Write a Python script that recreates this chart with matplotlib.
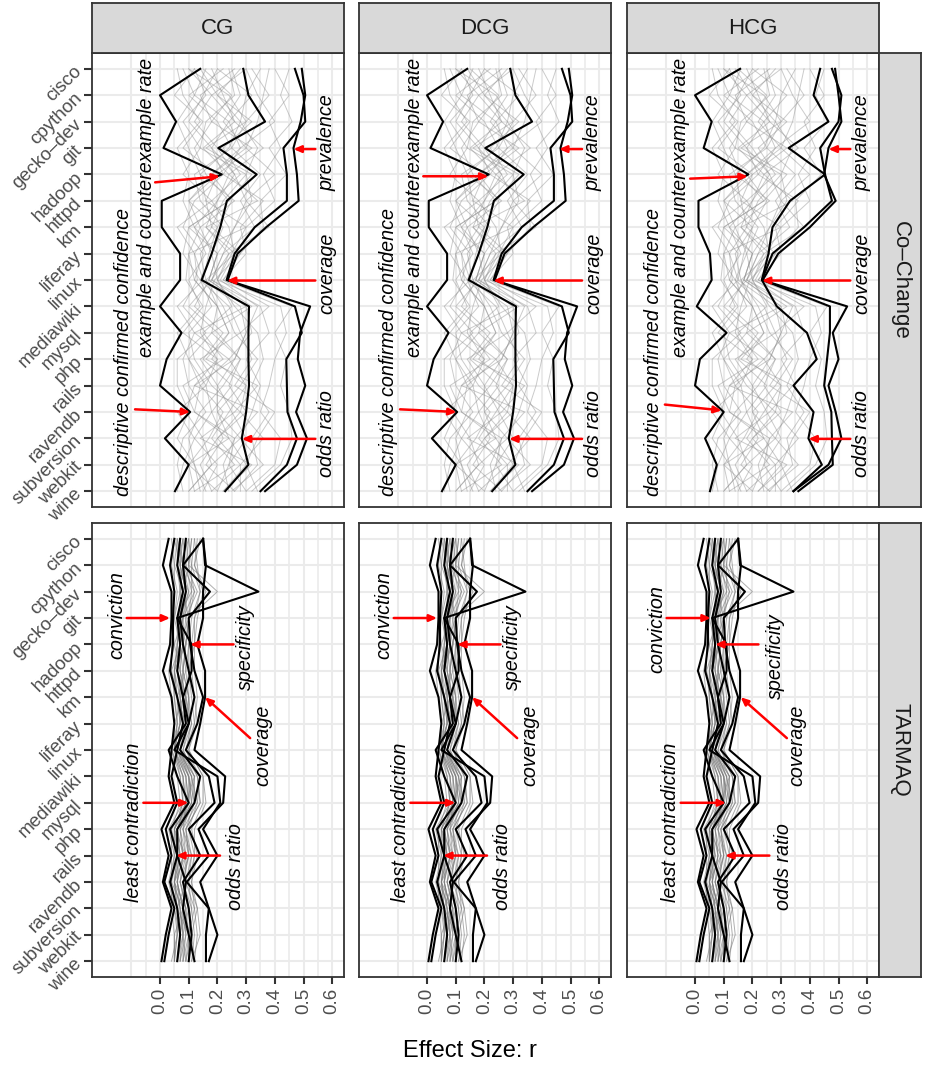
import matplotlib
matplotlib.use('Agg')
import matplotlib.pyplot as plt

plt.rcParams['font.family'] = ['Liberation Sans', 'DejaVu Sans']

# ---------------- data ----------------
projects = ['cisco', 'cpython', 'gecko–dev', 'git', 'hadoop', 'httpd', 'km', 'liferay',
            'linux', 'mediawiki', 'mysql', 'php', 'rails', 'ravendb', 'subversion',
            'webkit', 'wine']
col_labels = ['CG', 'DCG', 'HCG']
row_labels = ['Co–Change', 'TARMAQ']
x_ticks = [0.0, 0.1, 0.2, 0.3, 0.4, 0.5, 0.6]
x_tick_labels = ['0.0', '0.1', '0.2', '0.3', '0.4', '0.5', '0.6']

# Co-Change: grey (all other measures)
cc_grey = [
    [0.20, 0.15, 0.10, 0.18, 0.22, 0.12, 0.08, 0.15, 0.12, 0.20, 0.18, 0.10, 0.14, 0.22, 0.17, 0.10, 0.12],
    [0.25, 0.28, 0.22, 0.30, 0.18, 0.25, 0.20, 0.17, 0.15, 0.28, 0.30, 0.26, 0.20, 0.25, 0.30, 0.24, 0.20],
    [0.12, 0.05, 0.15, 0.08, 0.20, 0.10, 0.14, 0.10, 0.09, 0.15, 0.08, 0.20, 0.12, 0.09, 0.15, 0.18, 0.10],
    [0.32, 0.38, 0.30, 0.25, 0.35, 0.28, 0.33, 0.22, 0.18, 0.35, 0.38, 0.30, 0.35, 0.32, 0.28, 0.36, 0.25],
    [0.18, 0.22, 0.26, 0.15, 0.24, 0.20, 0.12, 0.20, 0.17, 0.12, 0.22, 0.15, 0.25, 0.18, 0.12, 0.20, 0.15],
    [0.08, 0.12, 0.06, 0.10, 0.14, 0.16, 0.18, 0.12, 0.15, 0.06, 0.12, 0.08, 0.10, 0.16, 0.08, 0.06, 0.08],
    [0.28, 0.20, 0.32, 0.22, 0.28, 0.18, 0.24, 0.26, 0.16, 0.22, 0.26, 0.34, 0.28, 0.20, 0.24, 0.30, 0.22],
    [0.15, 0.25, 0.18, 0.12, 0.16, 0.24, 0.10, 0.08, 0.14, 0.18, 0.10, 0.12, 0.18, 0.28, 0.20, 0.14, 0.18],
    [0.40, 0.45, 0.38, 0.42, 0.36, 0.40, 0.30, 0.25, 0.20, 0.42, 0.44, 0.40, 0.38, 0.35, 0.42, 0.40, 0.30],
    [0.22, 0.10, 0.20, 0.25, 0.12, 0.14, 0.22, 0.18, 0.20, 0.25, 0.15, 0.22, 0.08, 0.12, 0.26, 0.22, 0.24],
    [0.10, 0.18, 0.12, 0.20, 0.26, 0.20, 0.16, 0.24, 0.18, 0.10, 0.20, 0.28, 0.22, 0.14, 0.10, 0.12, 0.14],
    [0.35, 0.30, 0.28, 0.34, 0.30, 0.32, 0.26, 0.20, 0.17, 0.30, 0.32, 0.24, 0.30, 0.28, 0.36, 0.28, 0.28],
    [0.06, 0.08, 0.14, 0.06, 0.10, 0.08, 0.12, 0.16, 0.10, 0.14, 0.06, 0.10, 0.16, 0.06, 0.12, 0.08, 0.06],
    [0.30, 0.34, 0.40, 0.28, 0.22, 0.36, 0.28, 0.30, 0.22, 0.38, 0.28, 0.32, 0.26, 0.40, 0.34, 0.30, 0.34],
    [0.16, 0.12, 0.24, 0.28, 0.18, 0.10, 0.20, 0.14, 0.16, 0.20, 0.24, 0.18, 0.30, 0.24, 0.18, 0.26, 0.12],
    [0.24, 0.26, 0.16, 0.14, 0.30, 0.22, 0.18, 0.28, 0.19, 0.16, 0.14, 0.20, 0.16, 0.18, 0.22, 0.16, 0.26],
    [0.45, 0.42, 0.46, 0.38, 0.44, 0.35, 0.36, 0.28, 0.22, 0.46, 0.40, 0.44, 0.42, 0.45, 0.46, 0.42, 0.32],
    [0.12, 0.16, 0.08, 0.14, 0.08, 0.18, 0.06, 0.12, 0.13, 0.08, 0.16, 0.06, 0.06, 0.10, 0.06, 0.12, 0.16],
    [0.20, 0.32, 0.24, 0.18, 0.26, 0.30, 0.26, 0.22, 0.18, 0.32, 0.18, 0.28, 0.24, 0.30, 0.20, 0.28, 0.18],
    [0.38, 0.36, 0.34, 0.30, 0.40, 0.30, 0.38, 0.24, 0.20, 0.26, 0.34, 0.36, 0.32, 0.38, 0.32, 0.34, 0.26],
    [0.14, 0.20, 0.28, 0.24, 0.14, 0.26, 0.14, 0.18, 0.14, 0.24, 0.28, 0.14, 0.20, 0.20, 0.28, 0.18, 0.10],
    [0.26, 0.14, 0.18, 0.32, 0.20, 0.16, 0.30, 0.10, 0.12, 0.20, 0.24, 0.16, 0.34, 0.26, 0.14, 0.32, 0.22],
    [0.10, 0.24, 0.30, 0.16, 0.32, 0.24, 0.10, 0.20, 0.17, 0.30, 0.12, 0.24, 0.14, 0.12, 0.24, 0.10, 0.20],
    [0.30, 0.18, 0.26, 0.36, 0.24, 0.34, 0.16, 0.26, 0.21, 0.34, 0.30, 0.26, 0.12, 0.34, 0.26, 0.24, 0.30],
]

# Co-Change: highlighted measures (CG and DCG)
cc_black = [
    [0.14, 0.0, 0.056, 0.012, 0.215, 0.006, 0.006, 0.07, 0.07, 0.0, 0.075, 0.023, 0.0, 0.105, 0.017, 0.10, 0.052],
    [0.29, 0.308, 0.366, 0.203, 0.337, 0.233, 0.21, 0.18, 0.145, 0.31, 0.308, 0.308, 0.31, 0.30, 0.285, 0.308, 0.227],
    [0.47, 0.50, 0.506, 0.43, 0.442, 0.442, 0.33, 0.26, 0.232, 0.523, 0.488, 0.48, 0.506, 0.474, 0.512, 0.477, 0.366],
    [0.494, 0.506, 0.49, 0.465, 0.477, 0.483, 0.37, 0.27, 0.236, 0.47, 0.494, 0.44, 0.442, 0.444, 0.477, 0.442, 0.35],
]
# Co-Change: highlighted measures (HCG)
cc_black_hcg = [
    [0.157, 0.0, 0.058, 0.03, 0.186, 0.012, 0.012, 0.052, 0.058, 0.006, 0.11, 0.017, 0.0, 0.10, 0.035, 0.076, 0.052],
    [0.436, 0.413, 0.465, 0.326, 0.453, 0.331, 0.27, 0.256, 0.233, 0.285, 0.39, 0.424, 0.343, 0.413, 0.395, 0.442, 0.343],
    [0.477, 0.51, 0.50, 0.436, 0.453, 0.477, 0.38, 0.27, 0.233, 0.53, 0.48, 0.50, 0.465, 0.49, 0.51, 0.465, 0.343],
    [0.488, 0.50, 0.51, 0.465, 0.45, 0.49, 0.40, 0.29, 0.236, 0.47, 0.47, 0.46, 0.45, 0.475, 0.477, 0.48, 0.36],
]

# TARMAQ: grey
tq_grey = [
    [0.07, 0.06, 0.08, 0.07, 0.06, 0.05, 0.07, 0.08, 0.06, 0.09, 0.10, 0.05, 0.07, 0.05, 0.07, 0.08, 0.06],
    [0.09, 0.08, 0.10, 0.08, 0.08, 0.07, 0.09, 0.10, 0.07, 0.11, 0.12, 0.07, 0.09, 0.07, 0.09, 0.09, 0.08],
    [0.05, 0.04, 0.06, 0.05, 0.04, 0.04, 0.05, 0.06, 0.04, 0.07, 0.08, 0.03, 0.05, 0.03, 0.05, 0.06, 0.04],
    [0.11, 0.10, 0.12, 0.10, 0.09, 0.08, 0.10, 0.11, 0.08, 0.13, 0.14, 0.09, 0.10, 0.08, 0.10, 0.11, 0.09],
    [0.08, 0.09, 0.11, 0.06, 0.07, 0.06, 0.08, 0.07, 0.05, 0.10, 0.11, 0.06, 0.08, 0.06, 0.08, 0.07, 0.07],
    [0.10, 0.07, 0.09, 0.09, 0.10, 0.09, 0.06, 0.09, 0.06, 0.12, 0.09, 0.08, 0.11, 0.09, 0.06, 0.10, 0.10],
    [0.06, 0.08, 0.07, 0.08, 0.05, 0.07, 0.08, 0.05, 0.05, 0.08, 0.09, 0.06, 0.06, 0.04, 0.08, 0.05, 0.05],
    [0.12, 0.11, 0.14, 0.11, 0.10, 0.10, 0.11, 0.12, 0.09, 0.14, 0.13, 0.10, 0.12, 0.10, 0.11, 0.12, 0.11],
    [0.04, 0.05, 0.05, 0.04, 0.05, 0.03, 0.04, 0.05, 0.04, 0.06, 0.07, 0.04, 0.04, 0.04, 0.04, 0.05, 0.05],
    [0.09, 0.10, 0.08, 0.10, 0.07, 0.08, 0.07, 0.08, 0.07, 0.10, 0.12, 0.07, 0.08, 0.07, 0.10, 0.08, 0.09],
    [0.13, 0.12, 0.16, 0.12, 0.11, 0.11, 0.12, 0.13, 0.10, 0.15, 0.15, 0.11, 0.13, 0.11, 0.12, 0.13, 0.12],
    [0.07, 0.07, 0.09, 0.06, 0.08, 0.06, 0.09, 0.09, 0.06, 0.10, 0.11, 0.06, 0.06, 0.06, 0.07, 0.08, 0.07],
    [0.08, 0.06, 0.10, 0.07, 0.09, 0.05, 0.06, 0.07, 0.05, 0.09, 0.10, 0.05, 0.09, 0.05, 0.09, 0.07, 0.06],
    [0.10, 0.09, 0.13, 0.09, 0.08, 0.09, 0.10, 0.10, 0.08, 0.12, 0.12, 0.09, 0.10, 0.08, 0.11, 0.10, 0.08],
    [0.06, 0.05, 0.08, 0.06, 0.06, 0.05, 0.05, 0.06, 0.05, 0.08, 0.09, 0.04, 0.06, 0.05, 0.06, 0.06, 0.05],
    [0.11, 0.10, 0.20, 0.10, 0.09, 0.08, 0.08, 0.10, 0.07, 0.11, 0.13, 0.08, 0.09, 0.09, 0.12, 0.10, 0.10],
    [0.05, 0.07, 0.07, 0.05, 0.07, 0.04, 0.06, 0.07, 0.04, 0.08, 0.08, 0.05, 0.05, 0.04, 0.05, 0.07, 0.06],
    [0.09, 0.08, 0.12, 0.08, 0.07, 0.07, 0.09, 0.08, 0.06, 0.11, 0.10, 0.07, 0.08, 0.06, 0.08, 0.09, 0.07],
    [0.12, 0.13, 0.14, 0.12, 0.12, 0.10, 0.09, 0.11, 0.09, 0.13, 0.14, 0.09, 0.11, 0.10, 0.13, 0.11, 0.12],
    [0.07, 0.08, 0.09, 0.07, 0.06, 0.06, 0.07, 0.07, 0.05, 0.09, 0.09, 0.06, 0.07, 0.05, 0.07, 0.07, 0.06],
    [0.08, 0.07, 0.09, 0.08, 0.08, 0.06, 0.08, 0.09, 0.06, 0.10, 0.10, 0.06, 0.07, 0.06, 0.08, 0.08, 0.08],
    [0.10, 0.11, 0.11, 0.10, 0.09, 0.08, 0.10, 0.09, 0.07, 0.12, 0.11, 0.08, 0.10, 0.07, 0.09, 0.10, 0.09],
    [0.06, 0.06, 0.07, 0.07, 0.07, 0.05, 0.06, 0.06, 0.05, 0.07, 0.08, 0.05, 0.06, 0.05, 0.06, 0.06, 0.05],
    [0.14, 0.12, 0.15, 0.13, 0.12, 0.12, 0.13, 0.12, 0.10, 0.15, 0.16, 0.12, 0.12, 0.11, 0.13, 0.14, 0.11],
]

# TARMAQ: highlighted
tq_black = [
    [0.03, 0.01, 0.04, 0.04, 0.035, 0.01, 0.04, 0.05, 0.04, 0.03, 0.05, 0.005, 0.03, 0.01, 0.04, 0.02, 0.005],
    [0.05, 0.035, 0.05, 0.045, 0.045, 0.035, 0.06, 0.08, 0.06, 0.04, 0.06, 0.02, 0.04, 0.015, 0.05, 0.03, 0.015],
    [0.07, 0.06, 0.08, 0.06, 0.07, 0.06, 0.08, 0.09, 0.03, 0.06, 0.10, 0.035, 0.06, 0.035, 0.06, 0.07, 0.06],
    [0.09, 0.08, 0.09, 0.07, 0.08, 0.10, 0.12, 0.10, 0.07, 0.14, 0.12, 0.06, 0.06, 0.09, 0.08, 0.10, 0.12],
    [0.15, 0.08, 0.174, 0.10, 0.105, 0.12, 0.15, 0.13, 0.09, 0.17, 0.19, 0.10, 0.14, 0.08, 0.10, 0.11, 0.10],
    [0.15, 0.157, 0.343, 0.06, 0.11, 0.11, 0.08, 0.10, 0.05, 0.20, 0.21, 0.15, 0.20, 0.14, 0.17, 0.16, 0.16],
    [0.15, 0.16, 0.15, 0.15, 0.13, 0.157, 0.157, 0.14, 0.12, 0.227, 0.22, 0.134, 0.17, 0.093, 0.17, 0.20, 0.17],
]

# annotations per panel: (label, text_x, text_y, arrow_from_x, arrow_from_y, arrow_to_x, arrow_to_y)
ann_cc = [
    [('descriptive confirmed confidence', -0.128, 10.72, -0.087, 12.9, 0.105, 13.0),
     ('example and counterexample rate', -0.047, 5.26, -0.017, 4.3, 0.209, 4.07),
     ('prevalence', 0.581, 2.8, 0.541, 3.04, 0.465, 3.04),
     ('coverage', 0.581, 7.73, 0.541, 8.02, 0.233, 8.02),
     ('odds ratio', 0.581, 13.8, 0.541, 14.02, 0.285, 14.02)],
    [('descriptive confirmed confidence', -0.135, 10.72, -0.094, 12.9, 0.103, 13.0),
     ('example and counterexample rate', -0.042, 5.26, -0.013, 4.07, 0.214, 4.07),
     ('prevalence', 0.58, 2.8, 0.54, 3.04, 0.46, 3.04),
     ('coverage', 0.58, 7.73, 0.54, 8.02, 0.231, 8.02),
     ('odds ratio', 0.58, 13.8, 0.54, 14.02, 0.286, 14.02)],
    [('descriptive confirmed confidence', -0.146, 10.72, -0.105, 12.72, 0.093, 12.94),
     ('example and counterexample rate', -0.052, 5.26, -0.017, 4.16, 0.184, 4.07),
     ('prevalence', 0.581, 2.8, 0.541, 3.04, 0.465, 3.04),
     ('coverage', 0.581, 7.73, 0.541, 8.02, 0.233, 8.02),
     ('odds ratio', 0.581, 13.8, 0.541, 14.02, 0.395, 14.02)],
]
ann_tq = [
    [('conviction', -0.15, 2.9, -0.116, 3.0, 0.035, 3.0),
     ('specificity', 0.296, 4.11, 0.256, 4.0, 0.105, 4.0),
     ('coverage', 0.36, 7.83, 0.314, 7.55, 0.157, 6.0),
     ('least contradiction', -0.094, 10.73, -0.058, 10.0, 0.099, 10.0),
     ('odds ratio', 0.262, 12.4, 0.209, 12.0, 0.056, 12.0)],
    [('conviction', -0.15, 2.9, -0.116, 3.0, 0.035, 3.0),
     ('specificity', 0.296, 4.11, 0.256, 4.0, 0.105, 4.0),
     ('coverage', 0.36, 7.83, 0.314, 7.55, 0.157, 6.0),
     ('least contradiction', -0.094, 10.73, -0.058, 10.0, 0.099, 10.0),
     ('odds ratio', 0.262, 12.4, 0.209, 12.0, 0.056, 12.0)],
    [('conviction', -0.132, 3.4, -0.099, 3.0, 0.055, 3.0),
     ('specificity', 0.279, 4.44, 0.221, 4.0, 0.07, 4.0),
     ('coverage', 0.355, 7.83, 0.32, 7.55, 0.159, 6.0),
     ('least contradiction', -0.087, 10.73, -0.05, 10.0, 0.108, 10.0),
     ('odds ratio', 0.308, 12.4, 0.259, 12.0, 0.105, 12.0)],
]

# ---------------- layout ----------------
W, H = 928, 1065
fig = plt.figure(figsize=(W / 100, H / 100), dpi=100)

col_left = [92, 359, 627]
panel_w = 252
row_top = [53, 523]
panel_h = 454
strip_top_y = 3
strip_right_x0, strip_right_x1 = 879, 921


def fig_rect(x0, y0, w, h):
    return [x0 / W, 1 - (y0 + h) / H, w / W, h / H]


border_col = '#333333'
grid_col = '#EBEBEB'
tick_lab_col = '#4D4D4D'
ypos = list(range(len(projects)))

for r in range(2):
    for c in range(3):
        ax = fig.add_axes(fig_rect(col_left[c], row_top[r], panel_w, panel_h))
        ax.set_xlim(-0.237, 0.641)
        ax.set_ylim(len(projects) - 0.4, -0.6)
        # grid
        for gx in [-0.1, 0.0, 0.1, 0.2, 0.3, 0.4, 0.5, 0.6]:
            ax.axvline(gx, color=grid_col, lw=1.5, zorder=0)
        for gx in [-0.05, 0.05, 0.15, 0.25, 0.35, 0.45, 0.55]:
            ax.axvline(gx, color=grid_col, lw=1.2, zorder=0)
        for gy in ypos:
            ax.axhline(gy, color=grid_col, lw=1.5, zorder=0)

        if r == 0:
            grey = cc_grey
            black = cc_black_hcg if c == 2 else cc_black
            ann = ann_cc[c]
            gcol, galpha = '#8c8c8c', 0.45
        else:
            grey = tq_grey
            black = tq_black
            ann = ann_tq[c]
            gcol, galpha = '#7a7a7a', 0.6
        for g in grey:
            ax.plot(g, ypos, color=gcol, lw=0.7, alpha=galpha, zorder=1)
        for b in black:
            ax.plot(b, ypos, color='black', lw=1.5, zorder=2)

        for (lab, tx, ty, fx, fy, ex, ey) in ann:
            ax.annotate('', xy=(ex, ey), xytext=(fx, fy),
                        arrowprops=dict(arrowstyle='-|>,head_length=0.45,head_width=0.2',
                                        color='red', lw=1.8, shrinkA=0, shrinkB=0),
                        zorder=4)
            ax.text(tx, ty, lab, rotation=90, ha='center', va='center',
                    style='italic', fontsize=14.2, color='black', zorder=5)

        for sp in ax.spines.values():
            sp.set_color(border_col)
            sp.set_linewidth(1.3)
            sp.set_zorder(6)

        # ticks
        if c == 0:
            ax.set_yticks(ypos)
            ax.set_yticklabels(projects, rotation=45, ha='right', va='center',
                               rotation_mode='anchor', color=tick_lab_col, fontsize=13.5)
            ax.tick_params(axis='y', length=6, width=1.5, color=border_col, pad=3)
        else:
            ax.set_yticks([])
        if r == 1:
            ax.set_xticks(x_ticks)
            ax.set_xticklabels(x_tick_labels, rotation=90, ha='center', va='top',
                               color=tick_lab_col, fontsize=13.5)
            ax.tick_params(axis='x', length=5, width=1.5, color=border_col, pad=3)
        else:
            ax.set_xticks([])

        # top strips
        if r == 0:
            sax = fig.add_axes(fig_rect(col_left[c], strip_top_y, panel_w, row_top[0] - strip_top_y))
            sax.set_facecolor('#D9D9D9')
            sax.set_xticks([]); sax.set_yticks([])
            for sp in sax.spines.values():
                sp.set_color(border_col); sp.set_linewidth(1.3)
            sax.text(0.5, 0.5, col_labels[c], ha='center', va='center',
                     fontsize=16, color='#1A1A1A', transform=sax.transAxes)
        # right strips
        if c == 2:
            sax = fig.add_axes(fig_rect(strip_right_x0, row_top[r], strip_right_x1 - strip_right_x0, panel_h))
            sax.set_facecolor('#D9D9D9')
            sax.set_xticks([]); sax.set_yticks([])
            for sp in sax.spines.values():
                sp.set_color(border_col); sp.set_linewidth(1.3)
            sax.text(0.5, 0.5, row_labels[r], ha='center', va='center', rotation=-90,
                     fontsize=16, color='#1A1A1A', transform=sax.transAxes)

fig.text(470 / W, 1 - 1051 / H, 'Effect Size: r', ha='center', va='center',
         fontsize=17, color='black')

fig.savefig('out.png', dpi=100, facecolor='white')
